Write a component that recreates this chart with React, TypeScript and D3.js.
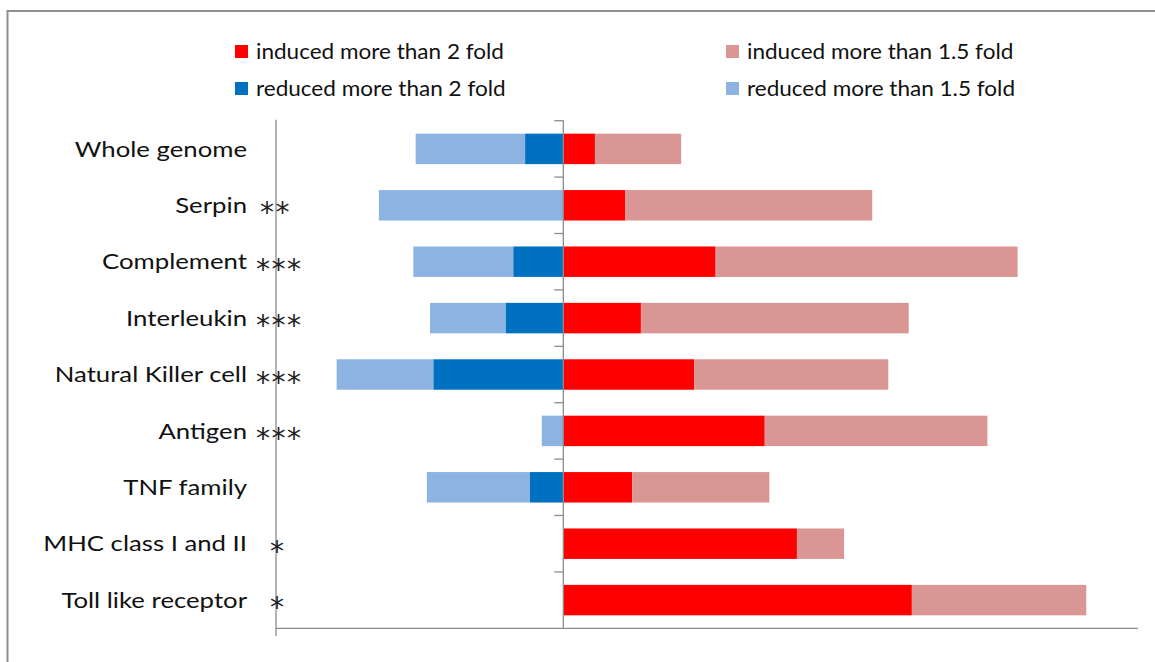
import React from "react";
import * as d3 from "d3";

const categories = [
  "Whole genome",
  "Serpin",
  "Complement",
  "Interleukin",
  "Natural Killer cell",
  "Antigen",
  "TNF family",
  "MHC class I and II",
  "Toll like receptor",
];
const significance = ["", "**", "***", "***", "***", "***", "", "*", "*"];

// cumulative values (percent of genes); 1.5-fold totals include the 2-fold ones
const induced2 = [1.1, 2.16, 5.3, 2.7, 4.55, 7.01, 2.4, 8.13, 12.13];
const induced15 = [4.1, 10.75, 15.81, 12.02, 11.31, 14.76, 7.17, 9.77, 18.2];
const reduced2 = [1.33, 0, 1.74, 2.0, 4.52, 0, 1.16, 0, 0];
const reduced15 = [5.14, 6.42, 5.22, 4.64, 7.89, 0.75, 4.75, 0, 0];

const xDomain = [-10, 20];

const legendLabels = [
  "induced more than 2 fold",
  "induced more than 1.5 fold",
  "reduced more than 2 fold",
  "reduced more than 1.5 fold",
];
const COLORS = {
  induced2: "#FF0000",
  induced15: "#D99694",
  reduced2: "#0070C0",
  reduced15: "#8DB3E2",
};
const legendColors = [COLORS.induced2, COLORS.induced15, COLORS.reduced2, COLORS.reduced15];

const W = 1155;
const H = 662;
const FONT = "Lato, 'Open Sans', sans-serif";
const AXIS = "#8c8c8c";

export default function App() {
  const x = d3.scaleLinear().domain(xDomain).range([276, 1138]);
  const y = d3
    .scaleBand<string>()
    .domain(categories)
    .range([120.7, 628.3])
    .paddingInner(0.46)
    .paddingOuter(0.23);
  const step = y.step();
  const top = y.range()[0];
  const bottom = y.range()[1];
  const x0 = x(0);

  const segs: { key: string; y: number; x1: number; x2: number; color: string }[] = [];
  categories.forEach((c, i) => {
    const yy = y(c)!;
    segs.push({ key: c + "r15", y: yy, x1: x(-reduced15[i]), x2: x(-reduced2[i]), color: COLORS.reduced15 });
    segs.push({ key: c + "r2", y: yy, x1: x(-reduced2[i]), x2: x(0), color: COLORS.reduced2 });
    segs.push({ key: c + "i2", y: yy, x1: x(0), x2: x(induced2[i]), color: COLORS.induced2 });
    segs.push({ key: c + "i15", y: yy, x1: x(induced2[i]), x2: x(induced15[i]), color: COLORS.induced15 });
  });

  const legendPos = [
    { sx: 235, tx: 256, cy: 52 },
    { sx: 726, tx: 747, cy: 52 },
    { sx: 235, tx: 256, cy: 89 },
    { sx: 726, tx: 747, cy: 89 },
  ];

  const starStart: Record<string, number> = { "*": 270, "**": 260, "***": 256 };

  return (
    <svg
      width={W}
      height={H}
      style={{ position: "absolute", left: 0, top: 0, background: "#fff" }}
      fontFamily={FONT}
    >
      <rect x={0} y={0} width={W} height={H} fill="#fff" />
      <rect x={7.5} y={11} width={W + 20} height={H + 20} fill="none" stroke="#8f8f8f" strokeWidth={2} />

      {/* legend */}
      {legendLabels.map((l, i) => (
        <g key={l}>
          <rect x={legendPos[i].sx} y={legendPos[i].cy - 7} width={13} height={13} fill={legendColors[i]} />
          <g transform={`translate(${legendPos[i].tx},${legendPos[i].cy}) scale(1.1,1)`}>
            <text x={0} y={0} dy="0.35em" fontSize={20.5} fill="#111">
              {l}
            </text>
          </g>
        </g>
      ))}

      {/* bars */}
      {segs
        .filter((s) => s.x2 - s.x1 > 0.01)
        .map((s) => (
          <rect key={s.key} x={s.x1} y={s.y} width={s.x2 - s.x1} height={y.bandwidth()} fill={s.color} />
        ))}

      {/* axes */}
      <line x1={276} x2={276} y1={top - 1} y2={636} stroke={AXIS} strokeWidth={1.3} />
      <line x1={276} x2={1138} y1={bottom} y2={bottom} stroke={AXIS} strokeWidth={1.3} />
      <line x1={x0} x2={x0} y1={top} y2={bottom} stroke={AXIS} strokeWidth={1.3} />
      {d3.range(categories.length).map((i) => (
        <line
          key={"t" + i}
          x1={x0 - 9}
          x2={x0}
          y1={top + i * step}
          y2={top + i * step}
          stroke={AXIS}
          strokeWidth={1.3}
        />
      ))}

      {/* category labels */}
      {categories.map((c, i) => {
        const cy = y(c)! + y.bandwidth() / 2;
        return (
          <g key={"l" + c}>
            <g transform={`translate(247,${cy}) scale(1.17,1)`}>
              <text x={0} y={0} dy="0.35em" textAnchor="end" fontSize={22} fill="#111">
                {c}
              </text>
            </g>
            {significance[i] && (
              <text
                x={starStart[significance[i]]}
                y={cy + 17}
                fontSize={28}
                fontFamily="'DejaVu Sans', sans-serif"
                letterSpacing={1.5}
                fill="#222"
              >
                {significance[i]}
              </text>
            )}
          </g>
        );
      })}
    </svg>
  );
}
